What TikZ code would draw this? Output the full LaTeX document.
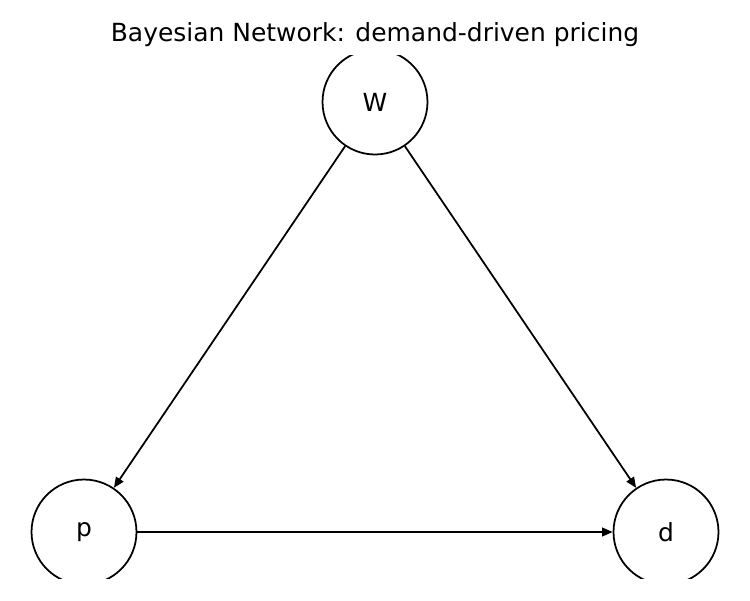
\documentclass[tikz,border=0pt]{standalone}
\usepackage{fontspec}
\setmainfont{DejaVu Sans}
\usepackage{tikz}
\usetikzlibrary{arrows.meta}

\begin{document}
\begin{tikzpicture}[x=0.02cm,y=-0.02cm,
  var/.style={circle,draw,line width=1pt,minimum size=2.1cm,inner sep=0pt,font=\fontsize{14.2}{17}\selectfont},
  arr/.style={-{Triangle[length=6pt,width=5pt]},line width=1pt}]
  \useasboundingbox (0,0) rectangle (750,600);
  %% title
  \node[font=\fontsize{14.2}{17}\selectfont] (title) at (375,35) {Bayesian Network: demand-driven pricing};
  %% variables (clipped by the plot area)
  \begin{scope}
    \clip (0,55) rectangle (750,578);
    \node[var] (W) at (375,102) {W};
    \node[var] (p) at (84,532)  {p};
    \node[var] (d) at (666,532) {d};
    % dependencies
    \draw[arr] (W) -- (p);
    \draw[arr] (W) -- (d);
    \draw[arr] (p) -- (d);
  \end{scope}
\end{tikzpicture}
\end{document}
